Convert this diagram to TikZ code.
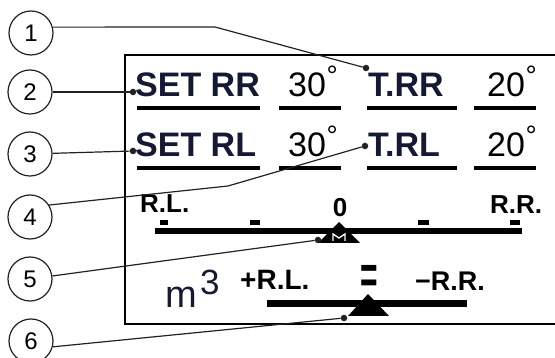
\documentclass[tikz,border=0pt]{standalone}
\usepackage{fontspec}
\setmainfont{Liberation Sans}
\usetikzlibrary{positioning}
\usepackage{xcolor}
\definecolor{lcdink}{HTML}{141a33}
\definecolor{ink}{HTML}{222222}
\newcommand{\fs}[1]{\fontsize{#1}{#1}\selectfont}
\newcommand{\dgr}{\kern0.5pt\raisebox{11pt}{\fs{28}°}}

\begin{document}
\begin{tikzpicture}[x=1pt, y=-1pt,
  callout/.style={draw=ink, circle, line width=1.2pt, minimum size=44pt,
    inner sep=0pt, font=\fs{24}},
  lead/.style={draw=ink, line width=1.2pt},
  dot/.style={circle, fill=ink, inner sep=0pt, minimum size=6.5pt},
  lcd/.style={anchor=base west, inner sep=0pt, text=lcdink, font=\bfseries\fs{34}},
  num/.style={anchor=base west, inner sep=0pt, font=\fs{34}},
  scalelbl/.style={anchor=base west, inner sep=0pt, font=\bfseries\fs{26}},
  rule/.style={line width=3.4pt}
]
\useasboundingbox (0,0) rectangle (555,358);
% display frame
\draw[line width=1.2pt] (555,55) -- (125,55) -- (125,324) -- (555,324);

% set and actual values
\node[lcd] (setrr) at (135,97) {SET RR};
\node[num] (valrr) at (288,97) {30\dgr};
\node[lcd] (trr) at (368,97) {T.RR};
\node[num] (temprr) at (487,97) {20\dgr};
\node[lcd] (setrl) at (135,157) {SET RL};
\node[num] (valrl) at (288,157) {30\dgr};
\node[lcd] (trl) at (368,157) {T.RL};
\node[num] (temprl) at (487,157) {20\dgr};
\foreach \y in {108,168} {
  \draw[rule] (137,\y) -- (260,\y);
  \draw[rule] (279,\y) -- (341,\y);
  \draw[rule] (367,\y) -- (457,\y);
  \draw[rule] (474,\y) -- (536,\y);
}

% balance scale
\node[scalelbl] (rl) at (140,213) {R.L.};
\node[scalelbl] (rr) at (490,214) {R.R.};
\node[scalelbl, anchor=base] (zero) at (340,217) {0};
\fill (155,228) rectangle (522,234);
\foreach \a/\b in {160/168, 250/260, 418/429, 510/520}
  \fill (\a,220) rectangle (\b,225);
\fill (339,222) -- (360,243) -- (318,243) -- cycle;
\draw[white, line width=1.3pt] (333,241) -- (333,234) -- (339,238) -- (345,234) -- (345,241);

% volume row
\node[anchor=base west, inner sep=0pt, text=lcdink, font=\fs{38}] (vol) at (165,308) {m};
\node[anchor=base west, inner sep=0pt, text=lcdink, font=\fs{35}] (cube) at (200,295) {3};
\node[scalelbl, font=\bfseries\fs{28}] (plusrl) at (240,290) {+R.L.};
\node[scalelbl, font=\bfseries\fs{30}, anchor=base] (eq) at (369,294) {\scalebox{1}[1.8]{=}};
\node[scalelbl, font=\bfseries\fs{27}] (minusrr) at (415,291) {−R.R.};
\fill (267,300) rectangle (467,307);
\fill (368,294) -- (389,316) -- (348,316) -- cycle;

% callouts
\node[callout] (c1) at (31,33) {1};
\node[callout] (c2) at (30,92) {2};
\node[callout] (c3) at (30,154) {3};
\node[callout] (c4) at (30,217) {4};
\node[callout] (c5) at (30,279) {5};
\node[callout] (c6) at (31,341) {6};
\node[dot] (d1) at (366,68) {};
\node[dot] (d2) at (133,92) {};
\node[dot] (d3) at (133,151) {};
\node[dot] (d4) at (365,146) {};
\node[dot] (d5) at (318,240) {};
\node[dot] (d6) at (344,318) {};
\coordinate (k1) at (215,27);
\coordinate (k4) at (228,186);
\draw[lead] (c1.15) -- (k1) -- (d1);
\draw[lead] (c2) -- (d2);
\draw[lead] (c3) -- (d3);
\draw[lead] (c4.32) -- (k4) -- (d4);
\draw[lead] (c5) -- (d5);
\draw[lead] (c6.-15) -- (d6);
\end{tikzpicture}
\end{document}
